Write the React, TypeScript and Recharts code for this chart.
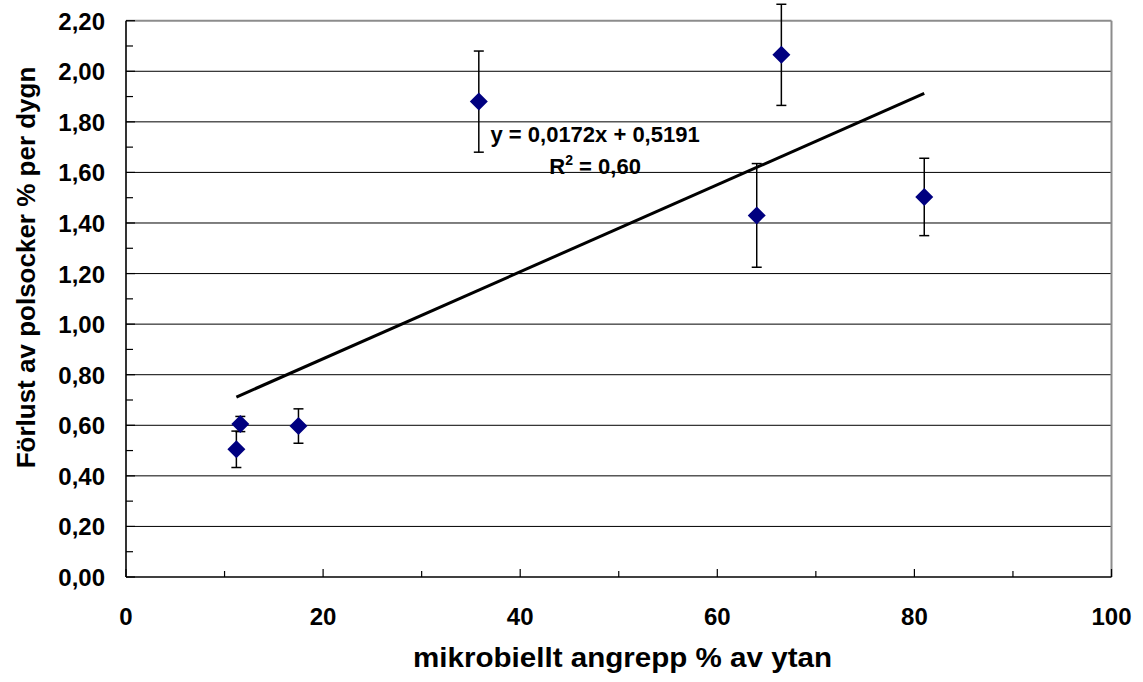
import React from 'react';
import { ComposedChart, Scatter, XAxis, YAxis, ReferenceLine, ReferenceDot, ErrorBar } from 'recharts';

// Microbial attack (% of surface) vs. loss of beet sugar (% per day)
const attackPct = [11.2, 11.6, 17.5, 35.8, 64.0, 66.5, 81.0];
const sugarLoss = [0.505, 0.605, 0.597, 1.88, 1.43, 2.065, 1.503];
const sugarLossErr = [0.072, 0.03, 0.068, 0.2, 0.205, 0.2, 0.153];

// Linear trend fitted to the points
const trendSlope = 0.0172;
const trendIntercept = 0.5191;
const trendR2 = '0,60';

const xTicks = [0, 10, 20, 30, 40, 50, 60, 70, 80, 90, 100];
const yTicks = Array.from({ length: 23 }, (_, i) => i / 10);
const yGrid = [0.2, 0.4, 0.6, 0.8, 1.0, 1.2, 1.4, 1.6, 1.8, 2.0];

const points = attackPct.map((x, i) => ({ x, y: sugarLoss[i], err: sugarLossErr[i] }));

const xMin = Math.min(...attackPct);
const xMax = Math.max(...attackPct);
const trendSegment = [
  { x: xMin, y: trendSlope * xMin + trendIntercept },
  { x: xMax, y: trendSlope * xMax + trendIntercept },
];

const FONT = '"Liberation Sans", Arial, sans-serif';
const fmt = (v: number, d: number) => v.toFixed(d).replace('.', ',');

const YTick = (props: any) => {
  const { x, y, payload } = props;
  const v = payload.value as number;
  const major = Math.round(v * 10) % 2 === 0;
  return (
    <g>
      <line x1={x} x2={x + (major ? 9 : 7)} y1={y} y2={y} stroke="#000" strokeWidth={1.2} />
      {major && (
        <text x={x - 21} y={y + 9} textAnchor="end" fontFamily={FONT} fontWeight="bold" fontSize={24} fill="#000">
          {fmt(v, 2)}
        </text>
      )}
    </g>
  );
};

const XTick = (props: any) => {
  const { x, y, payload } = props;
  const v = payload.value as number;
  const major = v % 20 === 0;
  return (
    <g>
      <line x1={x} x2={x} y1={y} y2={y - (major ? 8 : 6)} stroke="#000" strokeWidth={1.2} />
      {major && (
        <text x={x} y={y + 48} textAnchor="middle" fontFamily={FONT} fontWeight="bold" fontSize={24} fill="#000">
          {v}
        </text>
      )}
    </g>
  );
};

const Diamond = (props: any) => {
  const { cx, cy } = props;
  const r = 9;
  return (
    <polygon
      points={`${cx},${cy - r} ${cx + r},${cy} ${cx},${cy + r} ${cx - r},${cy}`}
      fill="#000080"
    />
  );
};

const EquationLabel = (props: any) => {
  const { cx, cy } = props;
  return (
    <g fontFamily={FONT} fontWeight="bold" fontSize={22} fill="#000">
      <text x={cx} y={cy} textAnchor="middle">y = 0,0172x + 0,5191</text>
      <text x={cx} y={cy + 32} textAnchor="middle">
        R<tspan dy={-9} fontSize={14}>2</tspan>
        <tspan dy={9}> = {trendR2}</tspan>
      </text>
    </g>
  );
};

export default function App() {
  return (
    <div style={{ position: 'absolute', left: 0, top: 0, width: 1143, height: 682, background: '#fff' }}>
      <div style={{ position: 'absolute', left: 0, top: 0 }}>
        <ComposedChart
          width={1143}
          height={682}
          data={points}
          margin={{ top: 20.7, right: 31.5, bottom: 0, left: 0 }}
        >
          <XAxis
            type="number"
            dataKey="x"
            domain={[0, 100]}
            ticks={xTicks}
            interval={0}
            height={105}
            tickSize={0}
            tickMargin={0}
            tickLine={false}
            tick={<XTick />}
            axisLine={{ stroke: '#000', strokeWidth: 1.6 }}
          />
          <YAxis
            type="number"
            dataKey="y"
            domain={[0, 2.2]}
            allowDataOverflow
            ticks={yTicks}
            interval={0}
            width={126}
            tickSize={0}
            tickMargin={0}
            tickLine={false}
            tick={<YTick />}
            axisLine={{ stroke: '#000', strokeWidth: 1.6 }}
          />
          {yGrid.map((v) => (
            <ReferenceLine key={v} y={v} stroke="#000" strokeWidth={1} />
          ))}
          <ReferenceLine y={2.2} stroke="#8c8c8c" strokeWidth={2} />
          <ReferenceLine x={100} stroke="#8c8c8c" strokeWidth={2} />
          <ReferenceLine segment={trendSegment} stroke="#000" strokeWidth={3} />
          <Scatter dataKey="y" shape={<Diamond />} isAnimationActive={false}>
            <ErrorBar dataKey="err" direction="y" width={5} stroke="#000" strokeWidth={1.5} />
          </Scatter>
          <ReferenceDot x={47.6} y={1.72} r={0} shape={<EquationLabel />} />
        </ComposedChart>
      </div>
      <svg width={1143} height={682} style={{ position: 'absolute', left: 0, top: 0, pointerEvents: 'none' }}>
        <text
          x={622.5}
          y={667}
          textAnchor="middle"
          fontFamily={FONT}
          fontWeight="bold"
          fontSize={28}
          textLength={419}
          lengthAdjust="spacingAndGlyphs"
          fill="#000"
        >
          mikrobiellt angrepp % av ytan
        </text>
        <text
          transform="translate(35, 267.5) rotate(-90)"
          textAnchor="middle"
          fontFamily={FONT}
          fontWeight="bold"
          fontSize={26}
          fill="#000"
        >
          Förlust av polsocker % per dygn
        </text>
      </svg>
    </div>
  );
}
